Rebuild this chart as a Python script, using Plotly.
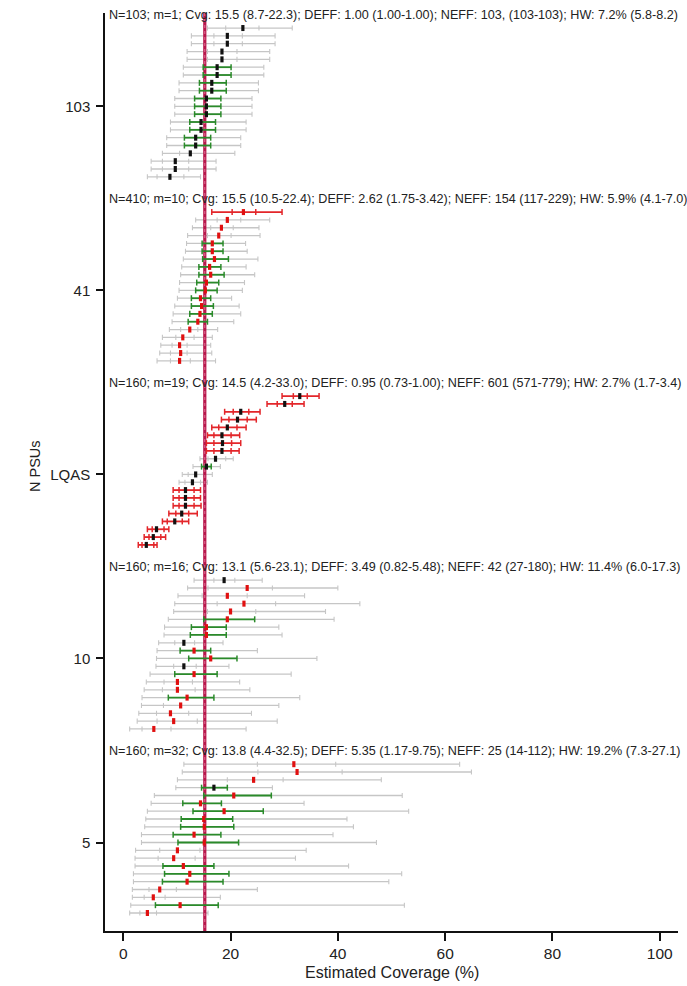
import plotly.graph_objects as go

# ---------------- data ----------------
GROUP_LABELS = ["103", "41", "LQAS", "10", "5"]
HEADERS = [
    "N=103; m=1; Cvg: 15.5 (8.7-22.3); DEFF: 1.00 (1.00-1.00); NEFF: 103, (103-103); HW: 7.2% (5.8-8.2)",
    "N=410; m=10; Cvg: 15.5 (10.5-22.4); DEFF: 2.62 (1.75-3.42); NEFF: 154 (117-229); HW: 5.9% (4.1-7.0)",
    "N=160; m=19; Cvg: 14.5 (4.2-33.0); DEFF: 0.95 (0.73-1.00); NEFF: 601 (571-779); HW: 2.7% (1.7-3.4)",
    "N=160; m=16; Cvg: 13.1 (5.6-23.1); DEFF: 3.49 (0.82-5.48); NEFF: 42 (27-180); HW: 11.4% (6.0-17.3)",
    "N=160; m=32; Cvg: 13.8 (4.4-32.5); DEFF: 5.35 (1.17-9.75); NEFF: 25 (14-112); HW: 19.2% (7.3-27.1)",
]
TRUE_COVERAGE = 15.2
X_TICKS = [0, 20, 40, 60, 80, 100]

# group "103"
g103_lo = [15.7, 12.7, 12.7, 11.9, 11.9, 11.2, 11.2, 10.4, 10.4, 9.6, 9.6, 9.6, 8.8, 8.8, 8.1, 8.1, 7.3, 5.2, 5.2, 4.5]
g103_q1 = [19.1, 16.9, 16.9, 15.7, 15.7, 14.9, 14.9, 14.2, 14.2, 13.3, 13.3, 13.3, 12.4, 12.4, 11.4, 11.4, 10.5, 7.3, 7.3, 6.3]
g103_est = [22.3, 19.4, 19.4, 18.4, 18.4, 17.5, 17.5, 16.5, 16.5, 15.5, 15.5, 15.5, 14.5, 14.5, 13.5, 13.5, 12.5, 9.7, 9.7, 8.7]
g103_q3 = [25.3, 22.2, 22.2, 21.2, 21.2, 20.1, 20.1, 19.2, 19.2, 18.2, 18.2, 18.2, 17.2, 17.2, 16.3, 16.3, 15.3, 12.2, 12.2, 11.3]
g103_hi = [31.5, 28.3, 28.3, 27.3, 27.3, 26.2, 26.2, 25.2, 25.2, 24.0, 24.0, 24.0, 22.9, 22.9, 21.9, 21.9, 20.8, 17.3, 17.3, 14.4]
g103_kind = "gggggGGGGGGGGGGGgggg"
g103_dot = "kkkkkkkkkkkkkkkkkkkk"

# group "41"
g41_lo = [16.5, 13.5, 12.9, 12.0, 11.8, 11.6, 11.2, 10.9, 10.7, 10.5, 10.4, 10.1, 9.6, 9.3, 9.1, 8.6, 7.3, 7.0, 6.8, 6.3]
g41_q1 = [20.3, 17.5, 16.3, 15.7, 14.7, 14.7, 14.8, 14.1, 14.1, 13.7, 13.5, 12.7, 12.7, 12.4, 12.1, 10.7, 9.8, 9.1, 8.8, 8.8]
g41_est = [22.4, 19.4, 18.3, 17.8, 16.6, 16.6, 17.0, 16.1, 16.3, 15.5, 15.3, 14.4, 14.6, 14.3, 13.9, 12.4, 11.1, 10.5, 10.7, 10.5]
g41_q3 = [24.7, 21.9, 20.5, 20.1, 18.6, 18.6, 19.6, 18.2, 18.8, 17.8, 17.5, 16.3, 16.8, 16.6, 15.7, 13.9, 13.2, 11.9, 11.9, 12.5]
g41_hi = [29.6, 27.3, 25.3, 25.5, 22.8, 23.1, 25.1, 22.9, 24.5, 22.6, 22.2, 20.2, 21.6, 21.9, 20.6, 17.6, 16.6, 16.3, 16.5, 17.2]
g41_kind = "RgggGGGGGGGGGGGggggg"
g41_dot = "rrrrrrrrrrrrrrrrrrrr"

# group "LQAS"
lqas_lo = [29.6, 26.8, 18.9, 18.3, 16.5, 15.7, 15.5, 15.5, 14.3, 13.0, 11.0, 10.4, 9.3, 9.3, 9.3, 8.5, 7.3, 4.5, 3.9, 2.8]
lqas_q1 = [31.7, 28.7, 20.5, 19.7, 17.8, 16.9, 16.9, 16.9, 15.8, 14.6, 12.1, 11.5, 10.4, 10.4, 10.4, 9.8, 8.2, 5.4, 4.8, 3.5]
lqas_est = [32.9, 30.1, 21.9, 21.3, 19.4, 18.4, 18.5, 18.4, 17.2, 15.5, 13.5, 12.9, 11.6, 11.6, 11.6, 10.9, 9.6, 6.2, 5.6, 4.3]
lqas_q3 = [34.3, 31.5, 23.4, 23.1, 21.2, 20.1, 20.2, 20.1, 19.1, 16.4, 15.0, 14.4, 13.2, 13.2, 13.2, 12.2, 11.0, 7.6, 7.0, 5.7]
lqas_hi = [36.5, 33.7, 25.5, 24.8, 22.9, 21.7, 21.9, 21.6, 20.5, 18.1, 16.6, 15.7, 14.4, 14.4, 14.5, 13.8, 12.2, 8.5, 7.9, 6.3]
lqas_kind = "RRRRRRRRgGggRRRRRRRR"
lqas_dot = "kkkkkkkkkkkkkkkkkkkk"

# group "10"
g10_lo = [13.2, 12.0, 10.2, 9.6, 9.4, 8.4, 7.7, 7.6, 6.6, 6.3, 6.2, 6.1, 5.0, 4.3, 3.9, 3.5, 3.4, 2.9, 2.6, 1.2]
g10_q1 = [16.9, 15.8, 14.7, 17.5, 15.7, 15.0, 12.7, 12.5, 9.6, 10.6, 12.2, 9.4, 9.6, 7.6, 7.3, 8.4, 7.5, 6.2, 6.3, 3.5]
g10_est = [18.8, 23.1, 19.4, 22.5, 20.0, 19.4, 15.5, 15.5, 11.3, 13.2, 16.3, 11.3, 13.2, 10.1, 10.1, 11.9, 10.7, 8.8, 9.4, 5.7]
g10_q3 = [20.8, 27.8, 23.1, 28.4, 24.7, 24.5, 19.2, 19.2, 13.3, 16.3, 21.2, 13.6, 17.5, 12.9, 13.4, 16.9, 15.3, 12.2, 13.8, 8.9]
g10_hi = [25.9, 40.0, 33.8, 44.1, 37.7, 39.3, 29.0, 29.6, 18.6, 25.0, 36.1, 19.7, 31.3, 21.7, 23.6, 32.9, 29.0, 23.9, 28.7, 22.9]
g10_kind = "gggggGGGgGGgGggGgggg"
g10_dot = "krrrrrrrkrrkrrrrrrrr"

# group "5"
g5_lo = [11.3, 11.0, 10.1, 9.8, 5.8, 5.2, 4.5, 4.2, 4.0, 3.4, 3.4, 2.3, 2.2, 2.2, 1.9, 1.9, 1.7, 1.7, 1.4, 1.2]
g5_q1 = [25.0, 25.1, 19.4, 14.6, 15.0, 11.1, 13.0, 10.8, 10.7, 9.3, 10.2, 6.8, 6.5, 7.4, 7.7, 7.3, 4.8, 3.9, 6.0, 3.1]
g5_est = [31.8, 32.4, 24.3, 16.9, 20.6, 14.4, 18.8, 15.0, 15.1, 13.2, 15.1, 10.1, 9.4, 11.2, 12.4, 11.9, 6.8, 5.6, 10.6, 4.5]
g5_q3 = [39.6, 40.8, 29.8, 19.4, 27.6, 18.3, 26.1, 20.4, 20.6, 18.2, 21.5, 14.3, 13.4, 16.9, 19.7, 18.6, 9.9, 7.8, 17.7, 6.2]
g5_hi = [62.7, 64.9, 48.1, 27.8, 52.0, 33.7, 53.2, 41.7, 42.9, 39.1, 47.2, 34.1, 32.1, 42.0, 51.9, 49.5, 25.0, 18.1, 52.4, 15.8]
g5_kind = "gggGGGGGGGGggGGGggGg"
g5_dot = "rrrkrrrrrrrrrrrrrrrr"

groups = [
    (g103_lo, g103_q1, g103_est, g103_q3, g103_hi, g103_kind, g103_dot),
    (g41_lo, g41_q1, g41_est, g41_q3, g41_hi, g41_kind, g41_dot),
    (lqas_lo, lqas_q1, lqas_est, lqas_q3, lqas_hi, lqas_kind, lqas_dot),
    (g10_lo, g10_q1, g10_est, g10_q3, g10_hi, g10_kind, g10_dot),
    (g5_lo, g5_q1, g5_est, g5_q3, g5_hi, g5_kind, g5_dot),
]

# ---------------- layout helpers ----------------
GS = 23.5          # group spacing in row units
Y_TOP, Y_BOT = 1.92, -115.3

GRAY = "#c6c6c6"
GREEN = "#2a8a2a"
RED = "#e3262a"
LINE_RED = "#b8184c"
FONT = "Liberation Sans, Arial, sans-serif"


def ypos(g, i):
    return -(g * GS + i)


seg = {"gray": ([], []), "green": ([], []), "red": ([], [])}
caps = {"gray": ([], []), "green": ([], []), "red": ([], [])}
dots = {"k": ([], []), "r": ([], [])}

for g, (lo, q1, est, q3, hi, kind, dot) in enumerate(groups):
    for i in range(len(lo)):
        y = ypos(g, i)
        k = kind[i]
        if k == "R":
            seg["red"][0].extend([lo[i], hi[i], None])
            seg["red"][1].extend([y, y, None])
            for v in (lo[i], q1[i], q3[i], hi[i]):
                caps["red"][0].append(v)
                caps["red"][1].append(y)
        else:
            seg["gray"][0].extend([lo[i], hi[i], None])
            seg["gray"][1].extend([y, y, None])
            for v in (lo[i], hi[i]):
                caps["gray"][0].append(v)
                caps["gray"][1].append(y)
            if k == "G":
                seg["green"][0].extend([q1[i], q3[i], None])
                seg["green"][1].extend([y, y, None])
                for v in (q1[i], q3[i]):
                    caps["green"][0].append(v)
                    caps["green"][1].append(y)
            else:
                for v in (q1[i], q3[i]):
                    caps["gray"][0].append(v)
                    caps["gray"][1].append(y)
        dots[dot[i]][0].append(est[i])
        dots[dot[i]][1].append(y)

fig = go.Figure()

# gray lines
fig.add_trace(go.Scatter(x=seg["gray"][0], y=seg["gray"][1], mode="lines",
                         line=dict(color=GRAY, width=1.3), hoverinfo="skip"))
fig.add_trace(go.Scatter(x=caps["gray"][0], y=caps["gray"][1], mode="markers",
                         marker=dict(symbol="line-ns", size=3.6, line=dict(color=GRAY, width=1.1)),
                         hoverinfo="skip"))

# true coverage vertical line
fig.add_trace(go.Scatter(x=[TRUE_COVERAGE, TRUE_COVERAGE], y=[Y_TOP, Y_BOT], mode="lines",
                         line=dict(color=LINE_RED, width=3.2), hoverinfo="skip"))
fig.add_trace(go.Scatter(x=[TRUE_COVERAGE, TRUE_COVERAGE], y=[Y_TOP, Y_BOT], mode="lines",
                         line=dict(color="#e889a8", width=0.8, dash="dot"), hoverinfo="skip"))

# green
fig.add_trace(go.Scatter(x=seg["green"][0], y=seg["green"][1], mode="lines",
                         line=dict(color=GREEN, width=1.8), hoverinfo="skip"))
fig.add_trace(go.Scatter(x=caps["green"][0], y=caps["green"][1], mode="markers",
                         marker=dict(symbol="line-ns", size=4.3, line=dict(color=GREEN, width=1.5)),
                         hoverinfo="skip"))
# red
fig.add_trace(go.Scatter(x=seg["red"][0], y=seg["red"][1], mode="lines",
                         line=dict(color=RED, width=1.8), hoverinfo="skip"))
fig.add_trace(go.Scatter(x=caps["red"][0], y=caps["red"][1], mode="markers",
                         marker=dict(symbol="line-ns", size=4.3, line=dict(color=RED, width=1.5)),
                         hoverinfo="skip"))

# point estimates
fig.add_trace(go.Scatter(x=dots["k"][0], y=dots["k"][1], mode="markers",
                         marker=dict(symbol="line-ns", size=4.3, line=dict(color="#111111", width=3.2)),
                         hoverinfo="skip"))
fig.add_trace(go.Scatter(x=dots["r"][0], y=dots["r"][1], mode="markers",
                         marker=dict(symbol="line-ns", size=4.3, line=dict(color="#e01010", width=3.2)),
                         hoverinfo="skip"))

annotations = []
for g, txt in enumerate(HEADERS):
    annotations.append(dict(x=-3.1, y=ypos(g, -1.7), xref="x", yref="y", text=txt,
                            showarrow=False, xanchor="left", yanchor="middle",
                            font=dict(family=FONT, size=12.6, color="#222222")))
annotations.append(dict(x=0.5, y=0, xref="paper", yref="paper", text="Estimated Coverage (%)",
                        showarrow=False, xanchor="center", yanchor="middle", yshift=-41,
                        font=dict(family=FONT, size=16, color="#222222")))
annotations.append(dict(x=0, y=0.5, xref="paper", yref="paper", text="N PSUs", textangle=-90,
                        showarrow=False, xanchor="center", yanchor="middle", xshift=-70, yshift=6,
                        font=dict(family=FONT, size=14.5, color="#222222")))

fig.update_layout(
    width=687, height=986,
    margin=dict(l=105, r=9, t=13, b=55),
    paper_bgcolor="white", plot_bgcolor="white",
    showlegend=False,
    annotations=annotations,
    font=dict(family=FONT, color="#222222"),
    xaxis=dict(range=[-3.4, 103.4], tickvals=X_TICKS, ticks="outside", ticklen=8,
               tickwidth=1.5, tickcolor="#111111", showline=True, linecolor="#111111",
               linewidth=1.5, showgrid=False, zeroline=False,
               tickfont=dict(family=FONT, size=15.5, color="#222222")),
    yaxis=dict(range=[Y_BOT, Y_TOP], tickvals=[ypos(g, 10) for g in range(len(GROUP_LABELS))],
               ticktext=GROUP_LABELS, ticks="outside", ticklen=7, tickwidth=1.5,
               tickcolor="#111111", showline=True, linecolor="#111111", linewidth=1.5,
               showgrid=False, zeroline=False, ticklabelstandoff=3,
               tickfont=dict(family=FONT, size=15, color="#222222")),
)

fig.write_html("out.html")
